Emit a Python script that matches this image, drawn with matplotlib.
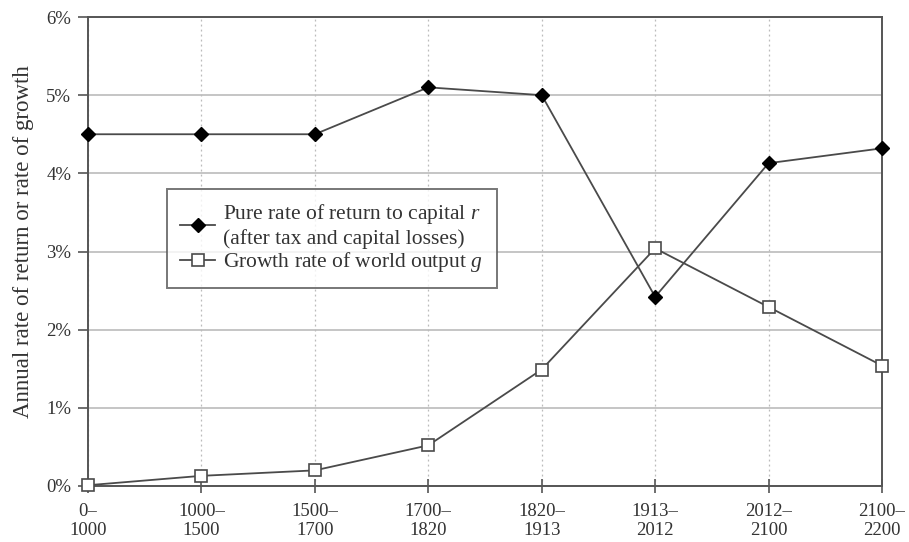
import matplotlib
matplotlib.use("Agg")
import matplotlib.pyplot as plt

periods = ["0–\n1000", "1000–\n1500", "1500–\n1700", "1700–\n1820",
           "1820–\n1913", "1913–\n2012", "2012–\n2100", "2100–\n2200"]
r_return = [4.5, 4.5, 4.5, 5.1, 5.0, 2.42, 4.13, 4.32]
g_growth = [0.01, 0.13, 0.2, 0.52, 1.49, 3.04, 2.29, 1.54]
y_ticks = [0, 1, 2, 3, 4, 5, 6]

plt.rcParams["font.family"] = "Liberation Serif"
plt.rcParams["mathtext.fontset"] = "custom"
plt.rcParams["mathtext.it"] = "Liberation Serif:italic"
plt.rcParams["mathtext.rm"] = "Liberation Serif"

fig = plt.figure(figsize=(9.09, 5.42), dpi=100)
ax = fig.add_axes([88 / 909, 1 - 486 / 542, 794 / 909, 469 / 542])

x = list(range(len(periods)))
line_col = "#4a4a4a"

ax.plot(x, r_return, color=line_col, lw=1.3, marker="D", ms=7.5,
        mfc="black", mec="black", clip_on=False, zorder=4,
        label="Pure rate of return to capital $r$\n(after tax and capital losses)")
ax.plot(x, g_growth, color=line_col, lw=1.3, marker="s", ms=8,
        mfc="white", mec=line_col, mew=1.2, clip_on=False, zorder=4,
        label="Growth rate of world output $g$")

ax.set_xlim(0, 7)
ax.set_ylim(0, 6)
ax.set_xticks(x)
ax.set_xticklabels(periods, fontsize=13.5)
ax.set_yticks(y_ticks)
ax.set_yticklabels([f"{v}%" for v in y_ticks], fontsize=13.5, color="#333333")
for lab in ax.get_xticklabels():
    lab.set_color("#333333")

ax.grid(axis="y", color="#bbbbbb", lw=1.2, ls="-")
ax.grid(axis="x", color="#bbbbbb", lw=0.9, ls=(0, (1.5, 2.5)))
ax.set_axisbelow(True)

for s in ax.spines.values():
    s.set_color("#555555")
    s.set_linewidth(1.4)

ax.tick_params(axis="y", direction="out", length=7, width=1.2, color="#555555", pad=5)
ax.tick_params(axis="x", direction="inout", length=10, width=1.2, color="#555555", pad=7)

ax.set_ylabel("Annual rate of return or rate of growth", fontsize=16.5, color="#333333")
ax.yaxis.set_label_coords(-0.068, 0.522)

leg = ax.legend(loc="upper left", bbox_to_anchor=(0.0995, 0.633), fontsize=15.5,
                frameon=True, fancybox=False, handlelength=1.6, handletextpad=0.4,
                borderpad=0.62, labelspacing=0.05, borderaxespad=0)
leg.get_frame().set_edgecolor("#555555")
leg.get_frame().set_linewidth(1.4)
for t in leg.get_texts():
    t.set_color("#333333")

fig.savefig("out.png", dpi=100)
